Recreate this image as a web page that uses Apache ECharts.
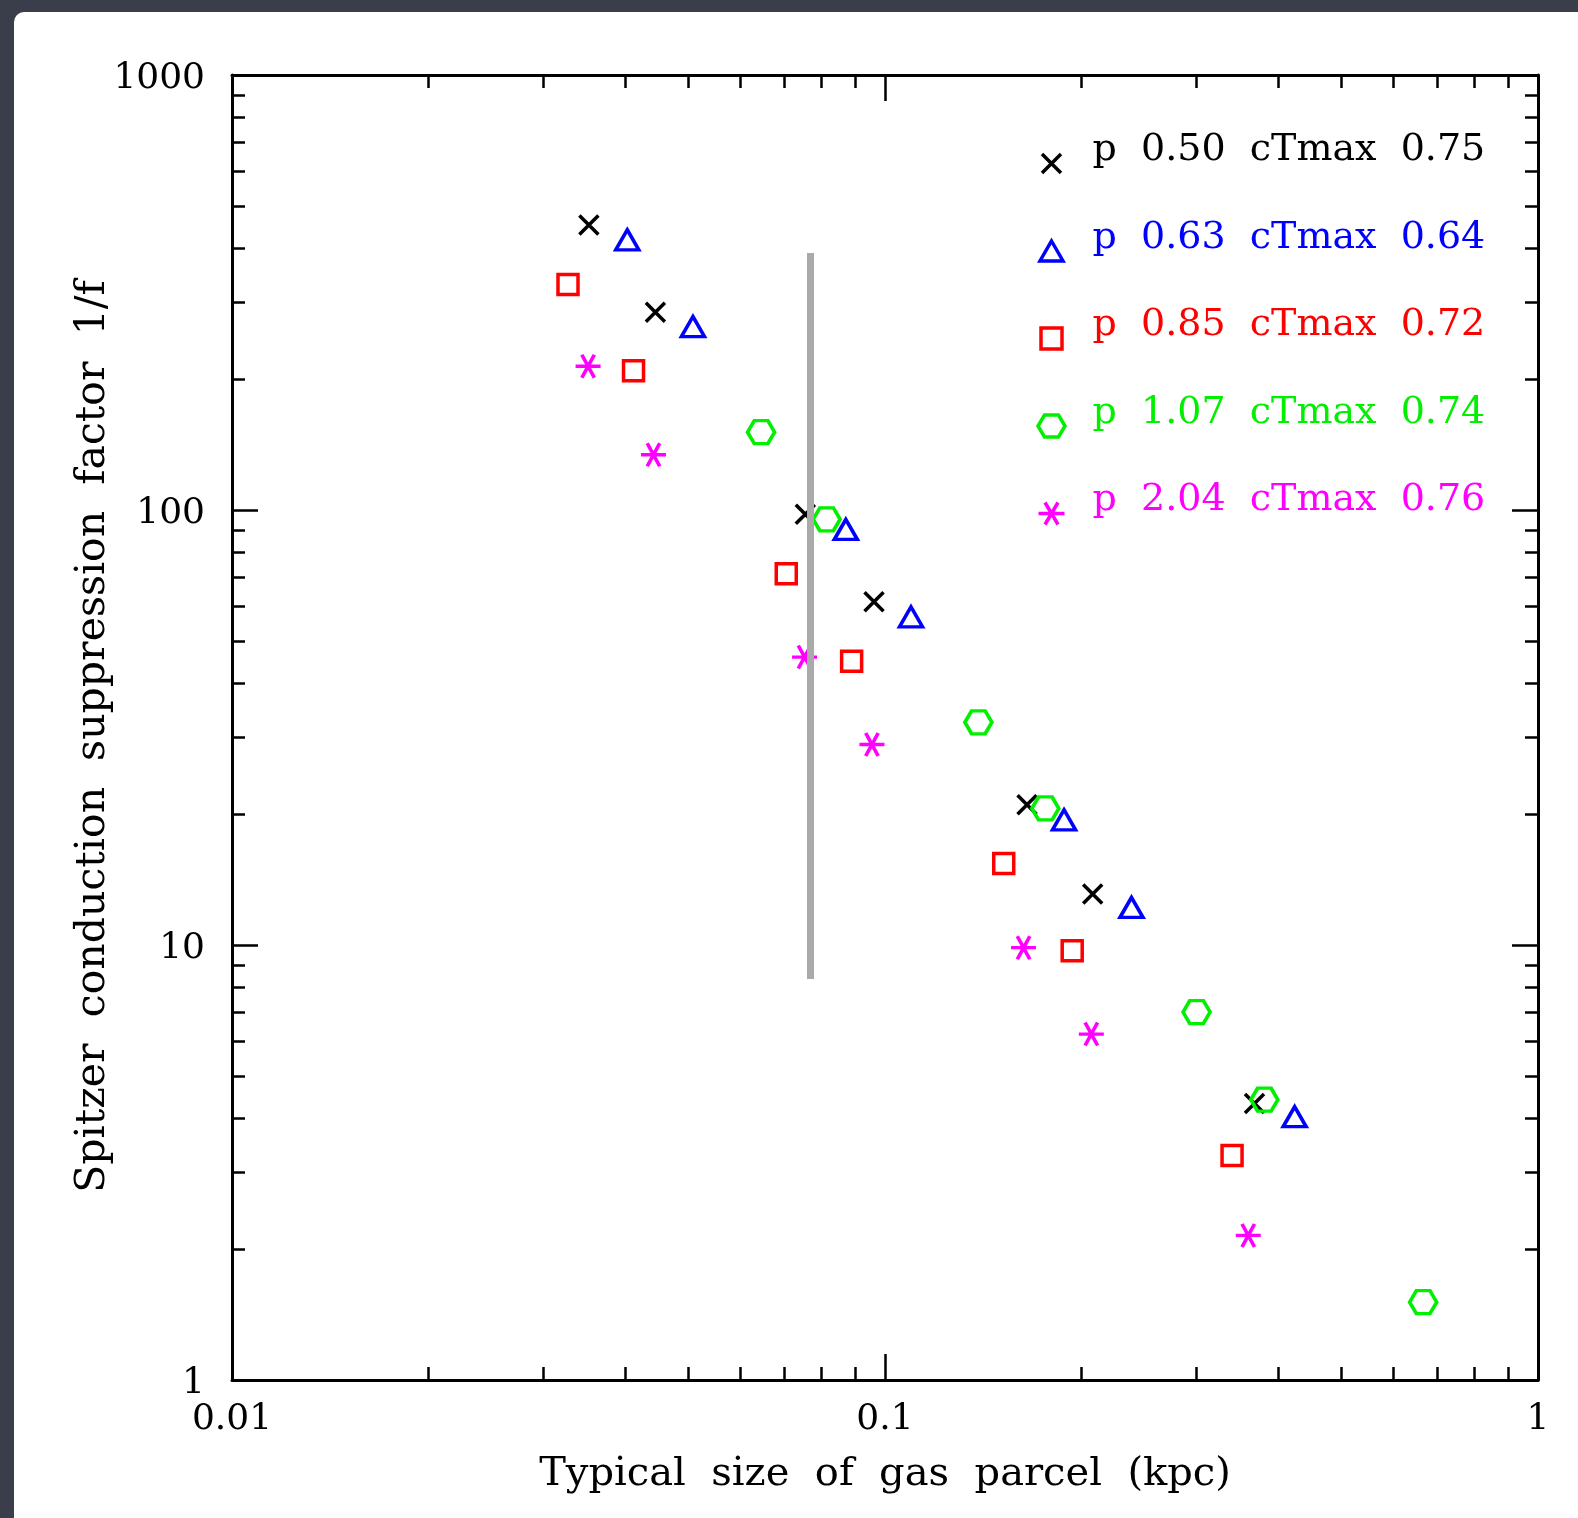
<!DOCTYPE html>
<html><head><meta charset="utf-8">
<script src="https://cdn.jsdelivr.net/npm/echarts@6/dist/echarts.min.js"></script>
<style>
html,body{margin:0;padding:0;background:#3a3e4a;width:1578px;height:1518px;overflow:hidden;}
#panel{position:absolute;left:14px;top:12px;right:0;bottom:0;background:#fff;border-top-left-radius:10px;}
#c{position:absolute;left:0;top:0;width:1578px;height:1518px;}
</style>
</head><body><div id="panel"></div><div id="c"></div>
<script>
// ---- data ----
const seriesNames = ['p 0.50 cTmax 0.75', 'p 0.63 cTmax 0.64', 'p 0.85 cTmax 0.72', 'p 1.07 cTmax 0.74', 'p 2.04 cTmax 0.76'];
const seriesColors = ['#000000', '#0000ff', '#ff0000', '#00f000', '#ff00ff'];

const xBlack = [0.0352, 0.0445, 0.0755, 0.0962, 0.165, 0.208, 0.368];
const yBlack = [452, 285, 97.8, 61.5, 21.0, 13.1, 4.32];
const xBlue = [0.0403, 0.0508, 0.0871, 0.1096, 0.188, 0.2385, 0.424];
const yBlue = [418, 264, 90.2, 56.8, 19.4, 12.2, 4.03];
const xRed = [0.0327, 0.0412, 0.0706, 0.0889, 0.152, 0.1935, 0.340];
const yRed = [330, 209, 71.4, 44.9, 15.4, 9.70, 3.28];
const xGreen = [0.0646, 0.0814, 0.139, 0.176, 0.300, 0.381, 0.667];
const yGreen = [151, 95.2, 32.5, 20.6, 7.01, 4.41, 1.51];
const xMagenta = [0.0351, 0.0442, 0.0753, 0.0955, 0.163, 0.207, 0.360];
const yMagenta = [214, 134, 45.9, 28.9, 9.86, 6.24, 2.15];

const greyLineX = [0.0769, 0.0769];
const greyLineY = [390, 8.35];

const xMajorTicks = [0.01, 0.1, 1];
const xMinorTicks = [0.02,0.03,0.04,0.05,0.06,0.07,0.08,0.09,0.2,0.3,0.4,0.5,0.6,0.7,0.8,0.9];
const yMajorTicks = [1, 10, 100, 1000];
const yMinorTicks = [2,3,4,5,6,7,8,9,20,30,40,50,60,70,80,90,200,300,400,500,600,700,800,900];
const xTickLabels = ['0.01', '0.1', '1'];
const yTickLabels = ['1', '10', '100', '1000'];

const xTitle = 'Typical size of gas parcel (kpc)';
const yTitle = 'Spitzer conduction suppression factor 1/f';

// ---- styling ----
const FONT = 'DejaVu Serif';
const symbols = [
  'path://M0 0 L10 10 M10 0 L0 10',
  'path://M5 0 L10 9 L0 9 Z',
  'path://M0 0 L10 0 L10 10 L0 10 Z',
  'path://M0 5 L2.5 0.67 L7.5 0.67 L10 5 L7.5 9.33 L2.5 9.33 Z',
  'path://M0 5 L10 5 M2.5 0.67 L7.5 9.33 M7.5 0.67 L2.5 9.33'
];
// legend icons: 28x50 box, shape centred at (14,38) so it sits lower than the text
const legendIcons = [
  'path://M0 0 M28 50 M4.5 28.5 L23.5 47.5 M23.5 28.5 L4.5 47.5',
  'path://M0 0 M28 50 M14 28 L25.5 48 L2.5 48 Z',
  'path://M0 0 M28 50 M3.5 27.5 L24.5 27.5 L24.5 48.5 L3.5 48.5 Z',
  'path://M0 0 M28 50 M0.5 38 L7 27 L21 27 L27.5 38 L21 49 L7 49 Z',
  'path://M0 0 M28 50 M1 38 L27 38 M7.5 27 L20.5 49 M20.5 27 L7.5 49'
];
const sizes = [[19,19],[23,20],[20,20],[27,23],[25,23]];
const xs = [xBlack, xBlue, xRed, xGreen, xMagenta];
const ys = [yBlack, yBlue, yRed, yGreen, yMagenta];

function nearestLabel(v, vals, labels) {
  let best = 0, bd = Infinity;
  vals.forEach((t, i) => { const d = Math.abs(Math.log10(t) - Math.log10(v)); if (d < bd) { bd = d; best = i; } });
  return labels[best];
}

function mkAxis(dim, pos, major) {
  const isX = dim === 'x';
  const min = isX ? 0.01 : 1, max = isX ? 1 : 1000;
  const ticks = major ? (isX ? xMajorTicks : yMajorTicks) : (isX ? xMinorTicks : yMinorTicks);
  const primary = major && (pos === 'bottom' || pos === 'left');
  const ax = {
    type: 'log', logBase: 10, min: min, max: max, position: pos,
    axisLine: { show: major, onZero: false, lineStyle: { color: '#000', width: 3 } },
    axisTick: { show: true, inside: true, length: major ? 26 : 13, customValues: ticks,
                lineStyle: { color: '#000', width: 2.5 } },
    splitLine: { show: false },
    axisLabel: { show: false }
  };
  if (primary) {
    ax.axisLabel = {
      show: true, customValues: ticks, fontFamily: FONT, fontSize: 36, color: '#000',
      margin: isX ? 22 : 27, showMinLabel: true, showMaxLabel: true,
      formatter: v => isX ? nearestLabel(v, xMajorTicks, xTickLabels)
                          : '{a|' + nearestLabel(v, yMajorTicks, yTickLabels) + '}',
      rich: { a: { fontFamily: FONT, fontSize: 36, color: '#000', padding: [7, 0, 0, 0] } }
    };
    ax.name = (isX ? xTitle : yTitle).replace(/ /g, '  ');
    ax.nameLocation = 'middle';
    ax.nameMoveOverlap = false;
    ax.nameGap = isX ? 75 : 118;
    ax.nameTextStyle = { fontFamily: FONT, fontSize: isX ? 40 : 41, color: '#000',
                         padding: isX ? 0 : [0, 18, 0, 0] };
  }
  return ax;
}

const series = seriesNames.map((n, i) => ({
  name: n, type: 'scatter', z: 3,
  symbol: symbols[i], symbolSize: sizes[i],
  itemStyle: { color: 'none', borderColor: seriesColors[i], borderWidth: 3.5, opacity: 1 },
  data: xs[i].map((x, j) => [x, ys[i][j]])
}));
series.push({
  name: 'limit', type: 'line', z: 5, silent: true, showSymbol: false, symbol: 'none',
  lineStyle: { color: '#aaaaaa', width: 7 },
  data: greyLineX.map((x, j) => [x, greyLineY[j]])
});

const chart = echarts.init(document.getElementById('c'), null, { renderer: 'canvas' });
chart.setOption({
  animation: false,
  backgroundColor: 'transparent',
  grid: { left: 232, right: 40, top: 75, bottom: 138, containLabel: false },
  xAxis: [mkAxis('x', 'bottom', true), mkAxis('x', 'bottom', false), mkAxis('x', 'top', true), mkAxis('x', 'top', false)],
  yAxis: [mkAxis('y', 'left', true), mkAxis('y', 'left', false), mkAxis('y', 'right', true), mkAxis('y', 'right', false)],
  legend: {
    orient: 'vertical', left: 1035, top: 123, padding: 0,
    itemWidth: 28, itemHeight: 50, itemGap: 32.5, selectedMode: false,
    itemStyle: { borderWidth: 3.5, color: 'none' },
    data: seriesNames.map((n, i) => ({ name: n, icon: legendIcons[i],
      itemStyle: { color: 'none', borderColor: seriesColors[i], borderWidth: 3.5 },
      textStyle: { color: seriesColors[i] } })),
    formatter: n => n.replace(/ /g, '  '),
    textStyle: { fontFamily: FONT, fontSize: 38, padding: [0, 0, 0, 22] }
  },
  series: series
});
</script>
</body></html>
